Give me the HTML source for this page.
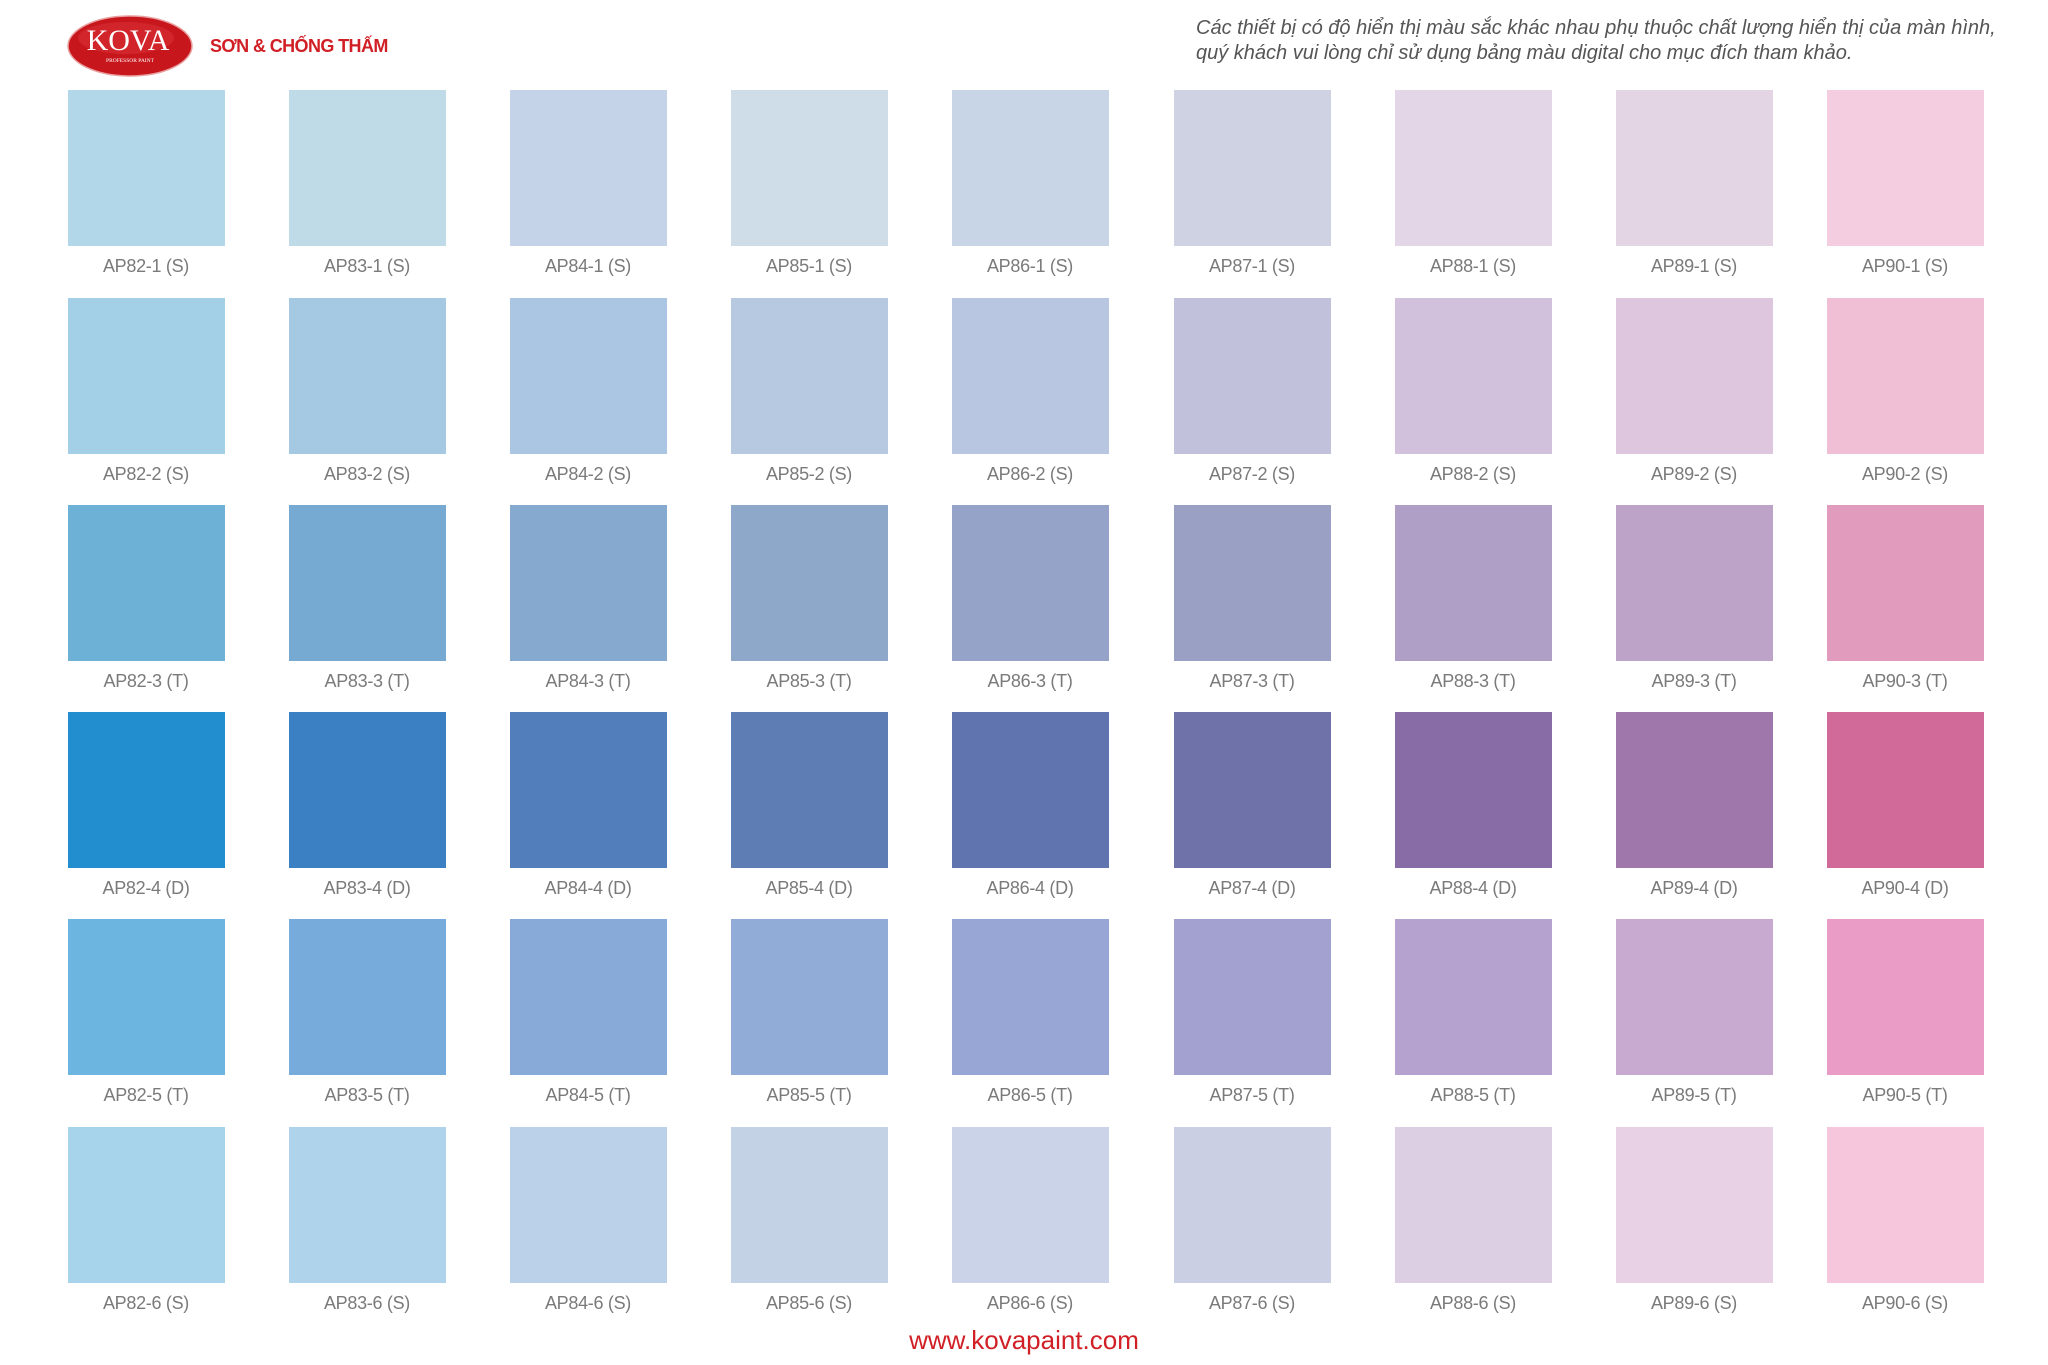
<!DOCTYPE html>
<html><head><meta charset="utf-8"><style>
body{margin:0;width:2048px;height:1365px;background:#fff;position:relative;overflow:hidden;font-family:"Liberation Sans",sans-serif}
.s{position:absolute;width:157px;height:156px}
.l{position:absolute;width:200px;text-align:center;font-size:18px;color:#7a7a7a;letter-spacing:-0.3px}
</style></head><body>
<svg style="position:absolute;left:66px;top:14px" width="128" height="64" viewBox="0 0 128 64">
<ellipse cx="64" cy="32" rx="62" ry="30" fill="#c8161d" stroke="#e8a0a0" stroke-width="1.5"/>
<ellipse cx="60" cy="24" rx="48" ry="16" fill="#d9343a" opacity="0.5"/>
<text x="62" y="36" text-anchor="middle" font-family="Liberation Serif,serif" font-size="30" fill="#fff">KOVA</text>
<text x="64" y="48" text-anchor="middle" font-family="Liberation Serif,serif" font-size="5.5" fill="#fff">PROFESSOR PAINT</text>
</svg>
<div style="position:absolute;left:210px;top:36px;font-size:18px;font-weight:bold;color:#d11f26;letter-spacing:-0.6px">SƠN &amp; CHỐNG THẤM</div>
<div style="position:absolute;left:1196px;top:16px;width:860px;font-size:20px;font-style:italic;color:#555;line-height:25px;letter-spacing:0px">Các thiết bị có độ hiển thị màu sắc khác nhau phụ thuộc chất lượng hiển thị của màn hình,<br>quý khách vui lòng chỉ sử dụng bảng màu digital cho mục đích tham khảo.</div>
<div style="position:absolute;left:0;width:2048px;top:1325px;text-align:center;font-size:26px;color:#d11f26">www.kovapaint.com</div>
<div id="g"></div>
<script>
var xs=[68,289,510,731,952,1174,1395,1616,1827];
var ys=[90,298,505,712,919,1127];
var suf=["(S)","(S)","(T)","(D)","(T)","(S)"];
var c=[
["#b1d7e8","#bfdbe8","#c5d3e8","#cfdde8","#c8d5e6","#cfd2e3","#e2d6e7","#e3d5e4","#f4cde0"],
["#a3d0e6","#a5c9e3","#abc6e2","#b6c9e1","#b8c6e2","#c1c1dc","#d1c1dc","#dec6de","#f0bed5"],
["#6eb1d7","#77aad2","#86a9cf","#8ea8c9","#95a3c9","#9a9fc4","#af9fc6","#bda3c7","#e19cbd"],
["#238ecf","#3b80c3","#527fbb","#5f7db5","#6075af","#6f72a8","#876ca5","#9f77ab","#d16a99"],
["#6bb5e0","#76abdb","#87aad9","#91acd6","#97a6d4","#a2a1d0","#b6a2cf","#c8a9cf","#ea9cc6"],
["#a7d4eb","#afd3eb","#bbd0e9","#c3d3e5","#cad3e8","#cbcfe4","#dccfe4","#e9d1e5","#f6c6dc"]];
var h="";
for(var r=0;r<6;r++)for(var k=0;k<9;k++){
h+='<div class="s" style="left:'+xs[k]+'px;top:'+ys[r]+'px;background:'+c[r][k]+'"></div>';
h+='<div class="l" style="left:'+(xs[k]-22)+'px;top:'+(ys[r]+166)+'px">AP'+(82+k)+'-'+(r+1)+' '+suf[r]+'</div>';}
document.getElementById("g").innerHTML=h;
</script>
</body></html>
